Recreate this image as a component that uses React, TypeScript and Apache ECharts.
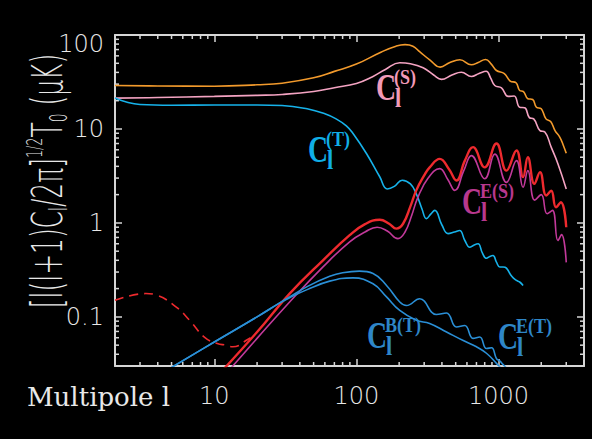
import React, { useEffect, useRef } from 'react';
import * as echarts from 'echarts';

const X_MIN = 2;
const X_MAX = 4000;
const Y_MIN = 0.03;
const Y_MAX = 100;

// total scalar+tensor temperature (orange)
const totalTT: number[][] = [
  [2, 29], [4, 28.7], [10, 28.5], [20, 29.5], [30, 30.7], [50, 35], [70, 41], [100, 49],
  [150, 66], [190, 76], [220, 79], [250, 76], [280, 66], [330, 54], [389, 45.5], [455, 51],
  [535, 54.5], [645, 48.2], [720, 51], [812, 54.9], [890, 49], [968, 41.9], [1100, 38.7],
  [1210, 32.3], [1330, 31], [1410, 25.7], [1500, 25], [1610, 21], [1740, 20.6], [1850, 17],
  [2000, 16.4], [2160, 12.8], [2330, 12.0], [2500, 9.6], [2700, 8.2], [2850, 6.8], [3000, 5.5],
];

// scalar temperature (pink)
const scalarTT: number[][] = [
  [2, 21.3], [4, 21.6], [10, 22.2], [20, 22.8], [30, 23.3], [50, 25], [70, 27.5], [100, 30.5],
  [130, 36], [160, 43], [202, 50.6], [240, 49.5], [295, 44.8], [350, 37.5], [397, 33.7],
  [470, 37.5], [548, 40.2], [645, 36.2], [730, 39], [820, 41.2], [880, 35], [942, 29],
  [1050, 27.4], [1170, 22.2], [1290, 22.4], [1410, 17], [1530, 16.8], [1650, 13.2],
  [1770, 12.8], [1960, 9.6], [2120, 9.3], [2350, 6.4], [2620, 4.27], [3000, 2.3],
];

// tensor temperature (cyan)
const tensorTT: number[][] = [
  [2, 21.3], [3, 18.2], [5, 17.9], [10, 18.0], [20, 18.0], [30, 17.8], [45, 16.4], [60, 14.5],
  [72, 12.8], [85, 10.8], [95, 8.9], [118, 5.45], [146, 3.1], [165, 2.3], [185, 2.45],
  [210, 2.85], [240, 2.6], [264, 2.04], [290, 1.4], [311, 1.11], [335, 1.25], [356, 1.36],
  [400, 0.95], [442, 0.77], [490, 0.8], [533, 0.83], [580, 0.65], [628, 0.55], [670, 0.58],
  [719, 0.6], [770, 0.48], [823, 0.42], [870, 0.44], [915, 0.45], [970, 0.38], [1021, 0.34],
  [1080, 0.34], [1138, 0.33], [1240, 0.27], [1339, 0.244], [1410, 0.235], [1490, 0.216],
];

// total E polarization (red)
const totalEE: number[][] = [
  [10, 0.0216], [20, 0.069], [33.9, 0.177], [58.2, 0.4], [89.7, 0.74], [115, 0.97], [146, 1.08],
  [170, 0.98], [191, 0.87], [213, 0.98], [240, 1.5], [264, 2.22], [300, 3.2], [328, 3.9],
  [386, 4.8], [450, 3.7], [506, 2.83], [580, 4.6], [662, 6.4], [800, 3.9], [968, 7],
  [1138, 3.6], [1339, 5.9], [1490, 3.07], [1610, 5], [1790, 2.6], [1960, 3.47], [2170, 1.96],
  [2350, 2.2], [2540, 1.47], [2750, 1.66], [3000, 0.9],
];

// reionization part of E polarization (red dashed)
const reionEE: number[][] = [
  [2, 0.15], [3.3, 0.177], [3.9, 0.171], [5.4, 0.127], [6.7, 0.092], [8.6, 0.06], [10.5, 0.052],
  [12.1, 0.05], [13.5, 0.048], [15.1, 0.05], [16.7, 0.056], [18, 0.06],
];

// scalar E polarization (magenta)
const scalarEE: number[][] = [
  [12, 0.0245], [20, 0.059], [33.9, 0.144], [58.2, 0.34], [89.7, 0.63], [115, 0.8], [140, 0.9],
  [165, 0.82], [196, 0.68], [220, 0.8], [245, 1.2], [270, 1.85], [320, 3.0], [386, 3.78],
  [440, 2.9], [493, 2.22], [570, 3.6], [645, 5.2], [800, 2.95], [943, 5.4], [1138, 2.7],
  [1339, 4.6], [1490, 2.4], [1610, 3.6], [1800, 1.75], [2000, 2.0], [2200, 1.25], [2400, 1.36],
  [2620, 0.65], [2780, 0.75], [3000, 0.38],
];

// tensor E polarization (blue, upper)
const tensorEE: number[][] = [
  [4, 0.0237], [10, 0.054], [20, 0.1], [28.7, 0.14], [33.9, 0.163], [45, 0.21], [64.9, 0.27],
  [80, 0.295], [105, 0.307], [131, 0.29], [163, 0.216], [202, 0.144], [225, 0.132], [279, 0.156],
  [365, 0.106], [431, 0.11], [506, 0.078], [579, 0.081], [662, 0.059], [738, 0.061],
  [823, 0.046], [894, 0.047], [968, 0.036], [1020, 0.034], [1080, 0.031], [1150, 0.028],
];

// tensor B polarization (blue, lower)
const tensorBB: number[][] = [
  [4, 0.0237], [10, 0.054], [20, 0.1], [28.7, 0.14], [33.9, 0.16], [45, 0.195], [64.9, 0.24],
  [94.6, 0.26], [131, 0.225], [163, 0.163], [202, 0.117], [264, 0.092], [328, 0.085],
  [431, 0.069], [565, 0.056], [700, 0.048], [823, 0.041], [968, 0.032], [1050, 0.028],
];

const xMinorTicks = [3, 4, 5, 6, 7, 8, 9, 20, 30, 40, 50, 60, 70, 80, 90, 200, 300, 400, 500, 600, 700, 800, 900, 2000, 3000];
const yMinorTicks = [0.04, 0.05, 0.06, 0.07, 0.08, 0.09, 0.2, 0.3, 0.4, 0.5, 0.6, 0.7, 0.8, 0.9, 2, 3, 4, 5, 6, 7, 8, 9, 20, 30, 40, 50, 60, 70, 80, 90];

const FRAME = '#d6d6d6';
const TICK_FONT = "'DejaVu Sans ExtraLight', 'DejaVu Sans', sans-serif";
const LABEL_FONT = "'Liberation Serif', serif";
const TEXT_COLOR = '#e8e8e8';

function curve(data: number[][], color: string, width = 1.6, dashed = false) {
  return {
    type: 'line',
    data,
    symbol: 'none',
    showSymbol: false,
    smooth: 0.45,
    silent: true,
    clip: true,
    lineStyle: { color, width, type: dashed ? [9, 6] : 'solid' },
  };
}

function clLabel(x: number, y: number, sup: string, color: string) {
  return [
    { type: 'text', x, y, scaleX: 0.75, style: { text: 'C', font: `bold 37px ${LABEL_FONT}`, fill: color, textAlign: 'left', textVerticalAlign: 'middle' } },
    { type: 'text', x: x + 19, y: y + 9, scaleX: 0.8, style: { text: 'l', font: `bold 28px ${LABEL_FONT}`, fill: color, textAlign: 'left', textVerticalAlign: 'middle' } },
    { type: 'text', x: x + 18, y: y - 12, scaleX: 0.82, style: { text: sup, font: `bold 22px ${LABEL_FONT}`, fill: color, textAlign: 'left', textVerticalAlign: 'middle' } },
  ];
}

function fmtTick(v: number) {
  return v >= 1 ? String(Math.round(v)) : String(Math.round(v * 10) / 10);
}

export default function App() {
  const ref = useRef<HTMLDivElement>(null);
  useEffect(() => {
    const chart = echarts.init(ref.current!, null, { renderer: 'svg' });
    const axisCommon = {
      type: 'log',
      logBase: 10,
      axisLine: { show: true, onZero: false, lineStyle: { color: FRAME, width: 2 } },
      axisTick: { show: true, inside: true, length: 7, lineStyle: { color: FRAME, width: 1.5 } },
      splitLine: { show: false },
      minorTick: { show: false },
    };
    const minorTickStyle = { stroke: FRAME, lineWidth: 1.5 };
    const MINOR = 4;
    const option: any = {
      animation: false,
      backgroundColor: '#000',
      grid: { left: 115, right: 8, top: 35, bottom: 73 },
      xAxis: [
        {
          ...axisCommon, min: X_MIN, max: X_MAX, position: 'bottom',
          axisLabel: { color: TEXT_COLOR, fontSize: 24, fontFamily: TICK_FONT, fontWeight: 200, margin: 18, showMinLabel: false, showMaxLabel: false, formatter: fmtTick },
        },
        { ...axisCommon, min: X_MIN, max: X_MAX, position: 'top', axisLabel: { show: false } },
      ],
      yAxis: [
        {
          ...axisCommon, min: Y_MIN, max: Y_MAX, position: 'left',
          axisLabel: {
            color: TEXT_COLOR, fontSize: 24, fontFamily: TICK_FONT, fontWeight: 200, margin: 11, showMinLabel: false,
            formatter: (v: number) => (Math.abs(v - 100) < 1e-6 ? '{top|100}' : fmtTick(v)),
            rich: { top: { color: TEXT_COLOR, fontSize: 24, fontFamily: TICK_FONT, fontWeight: 200, padding: [18, 0, 0, 0] } },
          },
        },
        { ...axisCommon, min: Y_MIN, max: Y_MAX, position: 'right', axisLabel: { show: false } },
      ],
      series: [
        curve(totalTT, '#f29a2c'),
        curve(scalarTT, '#f4a3c2'),
        curve(tensorTT, '#16b2ea'),
        curve(reionEE, '#ee2a2e', 1.6, true),
        curve(totalEE, '#ee2a2e', 2.4),
        curve(scalarEE, '#c2399a'),
        curve(tensorEE, '#2a8fd6'),
        curve(tensorBB, '#2a8fd6'),
        {
          type: 'custom', silent: true, clip: false,
          data: xMinorTicks.map((v) => [v, Y_MIN]),
          renderItem: (_p: any, api: any) => {
            const l = api.value(0);
            const b = api.coord([l, Y_MIN]);
            const t = api.coord([l, Y_MAX]);
            return {
              type: 'group',
              children: [
                { type: 'line', shape: { x1: b[0], y1: b[1], x2: b[0], y2: b[1] - MINOR }, style: minorTickStyle },
                { type: 'line', shape: { x1: t[0], y1: t[1], x2: t[0], y2: t[1] + MINOR }, style: minorTickStyle },
              ],
            };
          },
        },
        {
          type: 'custom', silent: true, clip: false,
          data: yMinorTicks.map((v) => [X_MIN, v]),
          renderItem: (_p: any, api: any) => {
            const v = api.value(1);
            const lp = api.coord([X_MIN, v]);
            const rp = api.coord([X_MAX, v]);
            return {
              type: 'group',
              children: [
                { type: 'line', shape: { x1: lp[0], y1: lp[1], x2: lp[0] + MINOR, y2: lp[1] }, style: minorTickStyle },
                { type: 'line', shape: { x1: rp[0], y1: rp[1], x2: rp[0] - MINOR, y2: rp[1] }, style: minorTickStyle },
              ],
            };
          },
        },
      ],
      graphic: [
        {
          type: 'text', x: 27, y: 397,
          style: { text: 'Multipole l', font: "26px 'DejaVu Serif', serif", fill: TEXT_COLOR, textAlign: 'left', textVerticalAlign: 'middle' },
        },
        {
          type: 'text', x: 47, y: 181, rotation: Math.PI / 2, scaleX: 0.58,
          style: {
            text: '{a|[l(l+1)C}{b|l}{a|/2π]}{c|1/2}{a|T}{b|0}{a| (μK)}',
            textAlign: 'center', textVerticalAlign: 'middle',
            rich: {
              a: { fontSize: 43, fontFamily: TICK_FONT, fontWeight: 200, fill: TEXT_COLOR, lineHeight: 48, verticalAlign: 'middle' },
              b: { fontSize: 24, fontFamily: TICK_FONT, fontWeight: 200, fill: TEXT_COLOR, lineHeight: 24, verticalAlign: 'bottom' },
              c: { fontSize: 22, fontFamily: TICK_FONT, fontWeight: 200, fill: TEXT_COLOR, lineHeight: 22, verticalAlign: 'top' },
            },
          },
        },
        ...clLabel(376, 88, '(S)', '#f29ab8'),
        ...clLabel(308, 150, '(T)', '#10aee6'),
        ...clLabel(462, 202, 'E(S)', '#b8388e'),
        ...clLabel(367, 336, 'B(T)', '#2e86c8'),
        ...clLabel(498, 337, 'E(T)', '#2e86c8'),
      ],
    };
    chart.setOption(option);
    return () => chart.dispose();
  }, []);
  return <div ref={ref} style={{ position: 'fixed', left: 0, top: 0, width: 592, height: 439, background: '#000' }} />;
}
